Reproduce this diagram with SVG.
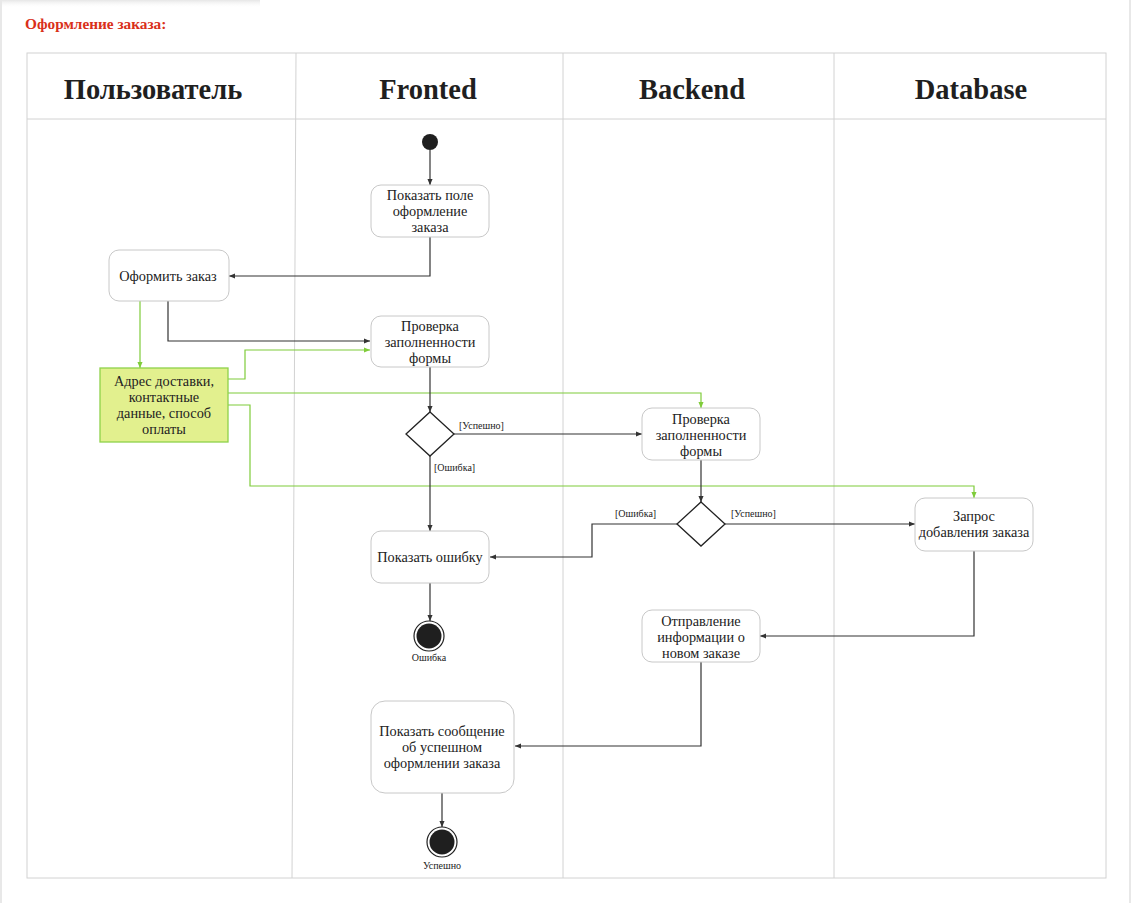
<svg xmlns="http://www.w3.org/2000/svg" width="1132" height="903" viewBox="0 0 1132 903">
<defs>
<marker id="ah" viewBox="0 0 8 8" refX="7" refY="4" markerWidth="7" markerHeight="7" markerUnits="userSpaceOnUse" orient="auto">
<path d="M0,1 L7,4 L0,7 z" fill="#333"/>
</marker>
<marker id="ahg" viewBox="0 0 8 8" refX="7" refY="4" markerWidth="7" markerHeight="7" markerUnits="userSpaceOnUse" orient="auto">
<path d="M0,1 L7,4 L0,7 z" fill="#7fcc3a"/>
</marker>
<linearGradient id="shadow" x1="0" y1="0" x2="0" y2="1">
<stop offset="0" stop-color="#e6e6e6"/>
<stop offset="1" stop-color="#ffffff" stop-opacity="0"/>
</linearGradient>
</defs>
<style>
text{font-family:'Liberation Serif','DejaVu Serif','Noto Serif',serif}
.title{font-weight:bold;font-size:15.3px;fill:#d9301a}
.hdr{font-weight:bold;font-size:28.5px;fill:#1f1f1f;text-anchor:middle}
.lane{stroke:#d2d2d2;stroke-width:1;fill:none}
.box{fill:#fff;stroke:#c8c8c8;stroke-width:1}
.t{font-size:14.3px;fill:#222;text-anchor:middle}
.lbl{font-size:10px;fill:#222}
.end{font-size:10px;fill:#222;text-anchor:middle}
.e{fill:none;stroke:#333;stroke-width:1.2;marker-end:url(#ah)}
.g{fill:none;stroke:#7fcc3a;stroke-width:1.2;marker-end:url(#ahg)}
.dia{fill:#fff;stroke:#222;stroke-width:1.3}
</style>
<rect x="0" y="0" width="1132" height="903" fill="#fff"/>
<rect x="0" y="0" width="260" height="8" fill="url(#shadow)"/>
<line x1="1" y1="0" x2="1" y2="903" stroke="#e8e8e8" stroke-width="2"/>
<line x1="1130" y1="0" x2="1130" y2="903" stroke="#e8e8e8" stroke-width="2"/>
<text class="title" x="25" y="29">Оформление заказа:</text>

<g id="swimlanes">
<rect class="lane" x="27" y="53" width="1079" height="825"/>
<line class="lane" x1="27" y1="119" x2="1106" y2="119"/>
<line class="lane" x1="296" y1="53" x2="292" y2="878"/>
<line class="lane" x1="563" y1="53" x2="563" y2="878"/>
<line class="lane" x1="834" y1="53" x2="834" y2="878"/>
<text class="hdr" x="153" y="99">Пользователь</text>
<text class="hdr" x="428" y="99">Fronted</text>
<text class="hdr" x="692" y="99">Backend</text>
<text class="hdr" x="971" y="99">Database</text>
</g>

<g id="connectors">
<path class="e" d="M430,150 V185"/>
<path class="e" d="M430,237 V276 H229"/>
<path class="e" d="M168,301 V341 H370"/>
<path class="g" d="M140,301 V368"/>
<path class="g" d="M228,379 H245 V350 H370"/>
<path class="g" d="M228,393 H701 V408"/>
<path class="g" d="M228,405 H250 V486 H974 V498"/>
<path class="e" d="M430,367 V412"/>
<path class="e" d="M454,434 H642"/>
<path class="e" d="M430,456 V531"/>
<path class="e" d="M701,460 V502"/>
<path class="e" d="M677,524 H592 V557 H490"/>
<path class="e" d="M725,524 H915"/>
<path class="e" d="M974,551 V636 H760"/>
<path class="e" d="M701,662 V746 H515"/>
<path class="e" d="M430,583 V621"/>
<path class="e" d="M442,793 V827"/>
<text class="lbl" x="459" y="429">[Успешно]</text>
<text class="lbl" x="434" y="471">[Ошибка]</text>
<text class="lbl" x="615" y="517">[Ошибка]</text>
<text class="lbl" x="731" y="517">[Успешно]</text>
</g>

<g id="start">
<circle cx="430" cy="142" r="8" fill="#1f1f1f"/>
</g>

<g id="show-form">
<rect class="box" x="371" y="185" width="118" height="52" rx="10"/>
<text class="t" x="430" y="200">Показать поле</text>
<text class="t" x="430" y="216">оформление</text>
<text class="t" x="430" y="232">заказа</text>
</g>

<g id="place-order">
<rect class="box" x="109" y="250" width="120" height="51" rx="10"/>
<text class="t" x="168" y="281">Оформить заказ</text>
</g>

<g id="order-data">
<rect x="100" y="368" width="128" height="74" fill="#e2f08e" stroke="#8ed24a" stroke-width="1.3"/>
<text class="t" x="164" y="386">Адрес доставки,</text>
<text class="t" x="164" y="402">контактные</text>
<text class="t" x="164" y="418">данные, способ</text>
<text class="t" x="164" y="434">оплаты</text>
</g>

<g id="check-front">
<rect class="box" x="371" y="316" width="118" height="51" rx="10"/>
<text class="t" x="430" y="331">Проверка</text>
<text class="t" x="430" y="347">заполненности</text>
<text class="t" x="430" y="363">формы</text>
</g>

<g id="decision-front">
<path class="dia" d="M430,412 L454,434 L430,456 L406,434 z"/>
</g>

<g id="check-back">
<rect class="box" x="642" y="408" width="118" height="52" rx="10"/>
<text class="t" x="701" y="424">Проверка</text>
<text class="t" x="701" y="440">заполненности</text>
<text class="t" x="701" y="456">формы</text>
</g>

<g id="decision-back">
<path class="dia" d="M701,502 L725,524 L701,546 L677,524 z"/>
</g>

<g id="db-request">
<rect class="box" x="915" y="498" width="118" height="53" rx="10"/>
<text class="t" x="974" y="521">Запрос</text>
<text class="t" x="974" y="537">добавления заказа</text>
</g>

<g id="show-error">
<rect class="box" x="371" y="531" width="118" height="52" rx="10"/>
<text class="t" x="430" y="562">Показать ошибку</text>
</g>

<g id="end-error">
<circle cx="429" cy="636" r="15" fill="#fff" stroke="#222" stroke-width="1.2"/>
<circle cx="429" cy="636" r="12.5" fill="#1f1f1f"/>
<text class="end" x="429" y="661">Ошибка</text>
</g>

<g id="send-info">
<rect class="box" x="642" y="610" width="118" height="52" rx="10"/>
<text class="t" x="701" y="626">Отправление</text>
<text class="t" x="701" y="642">информации о</text>
<text class="t" x="701" y="658">новом заказе</text>
</g>

<g id="show-success">
<rect class="box" x="371" y="701" width="143" height="92" rx="14"/>
<text class="t" x="442" y="736">Показать сообщение</text>
<text class="t" x="442" y="752">об успешном</text>
<text class="t" x="442" y="768">оформлении заказа</text>
</g>

<g id="end-success">
<circle cx="442" cy="842" r="15" fill="#fff" stroke="#222" stroke-width="1.2"/>
<circle cx="442" cy="842" r="12.5" fill="#1f1f1f"/>
<text class="end" x="442" y="869">Успешно</text>
</g>
</svg>
